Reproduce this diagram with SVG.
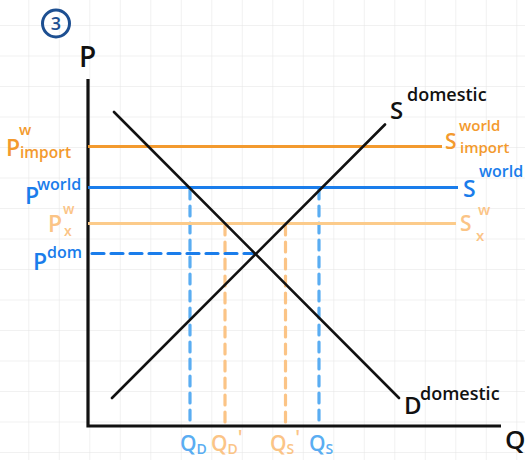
<svg xmlns="http://www.w3.org/2000/svg" width="525" height="460" viewBox="0 0 525 460">
<defs>
<pattern id="grid" x="28.3" y="25" width="30.5" height="30.5" patternUnits="userSpaceOnUse">
<path d="M0 0 H30.5 M0 0 V30.5" fill="none" stroke="#e3e3e3" stroke-width="1"/>
</pattern>
</defs>
<style>
text{font-family:"Open Sans","Noto Sans",sans-serif;font-weight:600}
.k{fill:#111}
.o{fill:#F39A2E}
.b{fill:#1A7DEB}
.lo{fill:#FBC486}
.lb{fill:#5AADF2}
.ax{stroke:#111;stroke-width:3.2;fill:none}
.cv{stroke:#111;stroke-width:2.6;fill:none;stroke-linecap:round}
.hl{stroke-width:3;fill:none}
.dash{fill:none;stroke-width:3.2;stroke-linecap:round}
</style>
<rect width="525" height="460" fill="#fff"/>
<rect width="525" height="460" fill="url(#grid)"/>

<g id="badge">
<circle cx="56" cy="23.5" r="13.5" fill="none" stroke="#1D4F91" stroke-width="3"/>
<text x="56" y="30" font-size="18" font-weight="800" text-anchor="middle" fill="#1D4F91">3</text>
</g>

<g id="axes">
<path class="ax" d="M88 79 V426 H501"/>
<text class="k" x="79" y="67" font-size="28">P</text>
<text class="k" x="505" y="449" font-size="26">Q</text>
</g>

<g id="connectors">
<line class="dash" x1="190" y1="189" x2="190" y2="426" stroke="#5AADF2" stroke-dasharray="10 7"/>
<line class="dash" x1="319" y1="189" x2="319" y2="426" stroke="#5AADF2" stroke-dasharray="10 7"/>
<line class="dash" x1="225" y1="225" x2="225" y2="426" stroke="#FBC486" stroke-dasharray="10 7"/>
<line class="dash" x1="285.5" y1="225" x2="285.5" y2="426" stroke="#FBC486" stroke-dasharray="10 7"/>
<line class="dash" x1="92" y1="253.5" x2="254" y2="253.5" stroke="#1A7DEB" stroke-dasharray="12 7"/>
</g>

<g id="price-lines">
<line class="hl" x1="88" y1="146.6" x2="442" y2="146.6" stroke="#F39A2E"/>
<line class="hl" x1="88" y1="187.5" x2="458" y2="187.5" stroke="#1A7DEB"/>
<line class="hl" x1="88" y1="223.6" x2="456" y2="223.6" stroke="#FCCB8A"/>
</g>

<g id="demand">
<line class="cv" x1="114" y1="112" x2="399" y2="398"/>
<text class="k" x="404" y="414" font-size="24">D</text>
<text class="k" x="420" y="400" font-size="18">domestic</text>
</g>

<g id="supply">
<line class="cv" x1="112" y1="398" x2="385" y2="124.5"/>
<text class="k" x="390" y="119" font-size="24">S</text>
<text class="k" x="407" y="101" font-size="18">domestic</text>
</g>

<g id="p-import">
<text class="o" x="6" y="156" font-size="23">P</text>
<text class="o" x="19" y="135" font-size="15">w</text>
<text class="o" x="20" y="158" font-size="15.5">import</text>
</g>
<g id="p-world">
<text class="b" x="25" y="204" font-size="23">P</text>
<text class="b" x="37" y="190" font-size="16">world</text>
</g>
<g id="p-x">
<text class="lo" x="48" y="232" font-size="23">P</text>
<text class="lo" x="63" y="214" font-size="14">w</text>
<text class="lo" x="64" y="236" font-size="14">x</text>
</g>
<g id="p-dom">
<text class="b" x="33" y="270" font-size="23">P</text>
<text class="b" x="47" y="258" font-size="16">dom</text>
</g>

<g id="s-import">
<text class="o" x="445" y="149" font-size="21">S</text>
<text class="o" x="459" y="131" font-size="15">world</text>
<text class="o" x="460" y="153" font-size="15">import</text>
</g>
<g id="s-world">
<text class="b" x="463" y="197" font-size="23">S</text>
<text class="b" x="479" y="177" font-size="16">world</text>
</g>
<g id="s-x">
<text class="lo" x="460" y="231" font-size="21">S</text>
<text class="lo" x="478" y="215" font-size="15">w</text>
<text class="lo" x="476" y="241" font-size="15">x</text>
</g>

<g id="q-labels">
<text class="lb" x="180" y="451" font-size="21">Q<tspan font-size="14" dy="3">D</tspan></text>
<text class="lo" x="211" y="451" font-size="21">Q<tspan font-size="14" dy="3">D</tspan><tspan font-size="20" dx="0" dy="-10">'</tspan></text>
<text class="lo" x="270" y="451" font-size="21">Q<tspan font-size="14" dy="3">S</tspan><tspan font-size="20" dx="1" dy="-10">'</tspan></text>
<text class="lb" x="309" y="451" font-size="21">Q<tspan font-size="14" dy="3">S</tspan></text>
</g>
</svg>
